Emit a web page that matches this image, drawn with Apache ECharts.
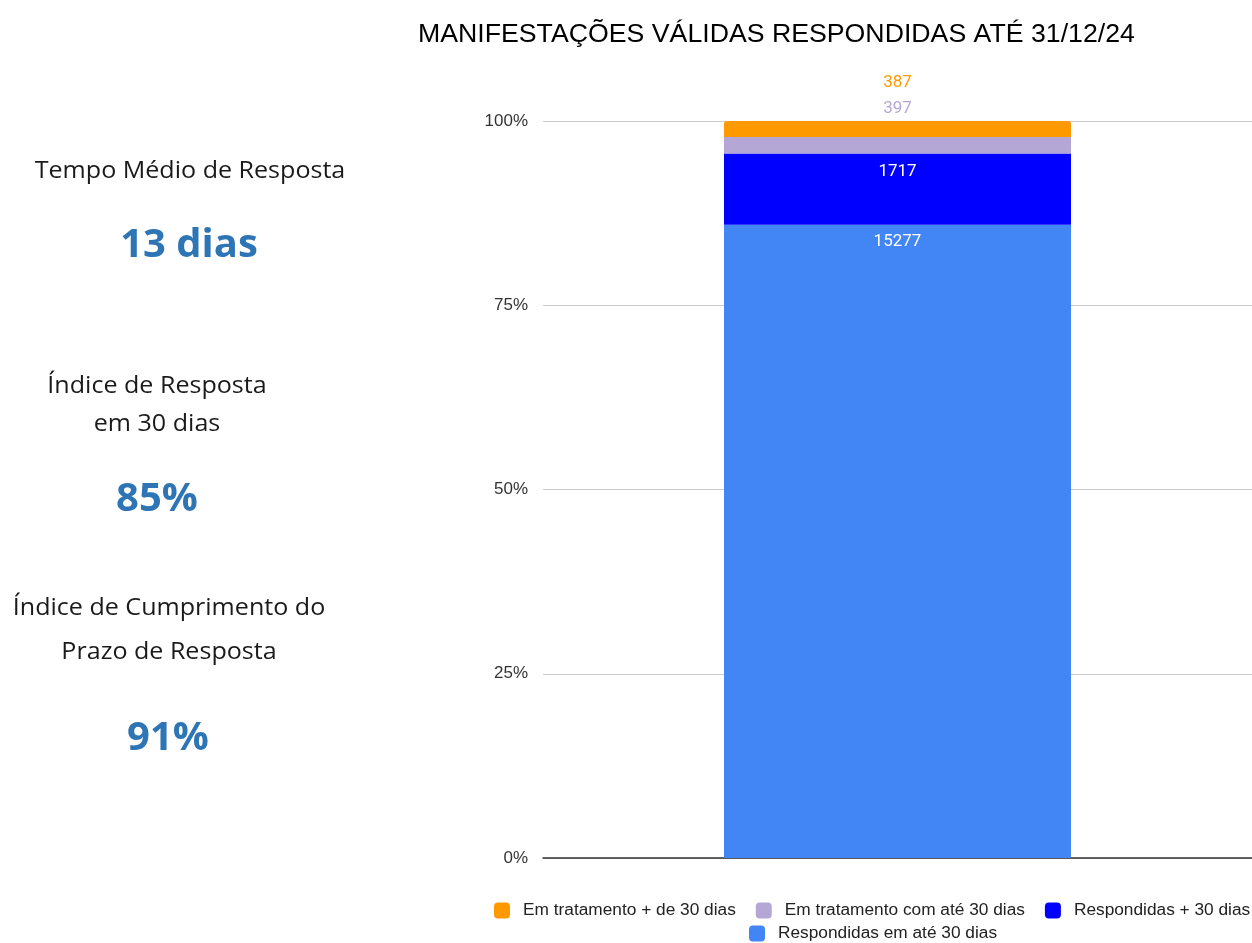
<!DOCTYPE html>
<html>
<head>
<meta charset="utf-8">
<script src="https://cdn.jsdelivr.net/npm/echarts@6/dist/echarts.min.js"></script>
<style>
  html, body { margin: 0; padding: 0; background: #fff; }
  #main { width: 1252px; height: 943px; }
</style>
</head>
<body>
<div id="main"></div>
<script>
// dados do gráfico
const categories = ['Manifestações'];
const seriesNames = ['Respondidas em até 30 dias', 'Respondidas + 30 dias', 'Em tratamento com até 30 dias', 'Em tratamento + de 30 dias'];
const counts = [15277, 1717, 397, 387];
const yTicks = [0, 25, 50, 75, 100];
// indicadores do lado esquerdo
const indicadores = [
  { titulo: ['Tempo Médio de Resposta'], valor: '13 dias' },
  { titulo: ['Índice de Resposta', 'em 30 dias'], valor: '85%' },
  { titulo: ['Índice de Cumprimento do', 'Prazo de Resposta'], valor: '91%' }
];

const cores = ['#4285f4', '#0000ff', '#b4a7d6', '#ff9900'];
const total = counts.reduce((a, b) => a + b, 0);

var chart = echarts.init(document.getElementById('main'));

// posições dos textos da esquerda (centro x, y de cada linha)
var posTitulo = [[[190, 171]], [[157, 386], [157, 424]], [[169, 608], [169, 652]]];
var posValor = [[189, 246], [157, 500], [168, 739]];

var graphics = [];
indicadores.forEach(function (ind, i) {
  ind.titulo.forEach(function (linha, j) {
    graphics.push({
      type: 'text',
      x: posTitulo[i][j][0],
      y: posTitulo[i][j][1],
      scaleX: 1.09,
      style: {
        text: linha,
        font: '23px "Open Sans"',
        fill: '#1a1a1a',
        textAlign: 'center',
        textVerticalAlign: 'middle'
      }
    });
  });
  graphics.push({
    type: 'text',
    x: posValor[i][0],
    y: posValor[i][1],
    style: {
      text: ind.valor,
      font: 'bold 40px "Open Sans"',
      fill: '#2e75b6',
      textAlign: 'center',
      textVerticalAlign: 'middle'
    }
  });
});

// labels de cada fatia
var labelCfg = [
  { show: true, position: 'insideTop', distance: 9, color: '#fff' },
  { show: true, position: 'insideTop', distance: 10, color: '#fff' },
  { show: true, position: 'top', offset: [0, -15], color: '#b4a7d6' },
  { show: true, position: 'top', offset: [0, -25], color: '#ff9900' }
];

var series = seriesNames.map(function (nome, i) {
  return {
    name: nome,
    type: 'bar',
    stack: 'total',
    barWidth: 347,
    data: [counts[i] / total * 100],
    itemStyle: {
      color: cores[i],
      borderRadius: i === seriesNames.length - 1 ? [3, 3, 0, 0] : 0
    },
    label: Object.assign({
      fontFamily: 'Roboto',
      fontSize: 17,
      formatter: function () { return String(counts[i]); }
    }, labelCfg[i]),
    emphasis: { disabled: true }
  };
});

var legendStyle = {
  orient: 'horizontal',
  icon: 'roundRect',
  itemWidth: 16,
  itemHeight: 16,
  itemGap: 20,
  padding: 0,
  width: 770,
  selectedMode: false,
  textStyle: { fontFamily: 'Liberation Sans', fontSize: 17.3, color: '#222', padding: [0, 0, 0, 8] }
};

var option = {
  animation: false,
  backgroundColor: '#fff',
  title: {
    text: 'MANIFESTAÇÕES VÁLIDAS RESPONDIDAS ATÉ 31/12/24',
    left: 413,
    top: 16,
    textStyle: { fontFamily: 'Liberation Sans', fontSize: 26.7, fontWeight: 'normal', color: '#000' }
  },
  legend: [
    Object.assign({ left: 494, top: 902, data: seriesNames.slice(1).reverse() }, legendStyle),
    Object.assign({ left: 749, top: 925, data: [seriesNames[0]] }, legendStyle)
  ],
  grid: { left: 543, right: 0, top: 121, bottom: 85 },
  xAxis: {
    type: 'category',
    data: categories,
    axisLine: { lineStyle: { color: '#333', width: 1.5 } },
    axisTick: { show: false },
    axisLabel: { show: false }
  },
  yAxis: {
    type: 'value',
    min: yTicks[0],
    max: yTicks[yTicks.length - 1],
    interval: yTicks[1] - yTicks[0],
    axisLine: { show: false },
    axisTick: { show: false },
    splitLine: { lineStyle: { color: '#ccc' } },
    axisLabel: {
      formatter: '{value}%',
      margin: 15,
      fontFamily: 'Liberation Sans',
      fontSize: 17,
      color: '#333'
    }
  },
  graphic: graphics,
  series: series
};

chart.setOption(option);
</script>
</body>
</html>
